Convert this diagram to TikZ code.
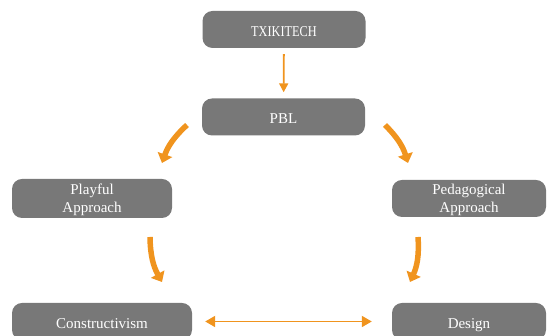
\documentclass[tikz,border=0pt]{standalone}
\usepackage{fontspec}
\setmainfont{Liberation Serif}
\usetikzlibrary{arrows.meta}
\definecolor{boxgray}{RGB}{120,120,120}
\definecolor{flow}{RGB}{240,148,30}
\tikzset{
  stage/.style={draw=none, fill=boxgray, rounded corners=10pt, text=white,
    minimum height=37pt, align=center, inner sep=2pt, text depth=0pt,
    font=\fontsize{15}{18}\selectfont},
  oneline/.style={text height=14pt},
  thinflow/.style={draw=flow, line width=1.8pt,
    -{Triangle[length=9pt,width=9pt]}},
  twoway/.style={draw=flow, line width=1.8pt,
    {Triangle[length=10pt,width=11pt]}-{Triangle[length=10pt,width=11pt]}},
  thickflow/.style={draw=flow, line width=5.5pt,
    -{Triangle[length=9pt,width=15pt]}}
}
\begin{document}
\begin{tikzpicture}[x=1pt,y=1pt]
  \useasboundingbox (0,0) rectangle (547,336);

  % stages
  \node[stage, oneline, minimum width=163pt] (tx)  at (284,306.5) {\scalebox{0.82}[1]{TXIKITECH}};
  \node[stage, oneline, minimum width=163pt] (pbl) at (283.5,219) {PBL};
  \node[stage, minimum width=160pt, minimum height=39pt] (play) at (92,137.5) {Playful\\Approach};
  \node[stage, minimum width=154pt] (ped)  at (469,137.5) {Pedagogical\\Approach};
  \node[stage, oneline, minimum width=180pt] (cons) at (102,14.5) {Constructivism};
  \node[stage, oneline, minimum width=154pt] (des)  at (469,14.5) {Design};

  % curved flow arrow anchors
  \coordinate (l1a) at (187,211);
  \coordinate (l1b) at (162,173);
  \coordinate (l2a) at (150,99);
  \coordinate (l2b) at (162,54);
  \coordinate (r1a) at (385,211);
  \coordinate (r1b) at (408,173);
  \coordinate (r2a) at (418,99);
  \coordinate (r2b) at (410,54);

  % connectors
  \draw[thinflow, shorten <=6pt, shorten >=6pt] (tx) -- (pbl);
  \draw[thickflow] (l1a) to[bend right=14] (l1b);
  \draw[thickflow] (l2a) to[bend right=14] (l2b);
  \draw[thickflow] (r1a) to[bend left=14] (r1b);
  \draw[thickflow] (r2a) to[bend left=14] (r2b);
  \draw[twoway, shorten <=13pt, shorten >=20pt] (cons) -- (des);
\end{tikzpicture}
\end{document}
